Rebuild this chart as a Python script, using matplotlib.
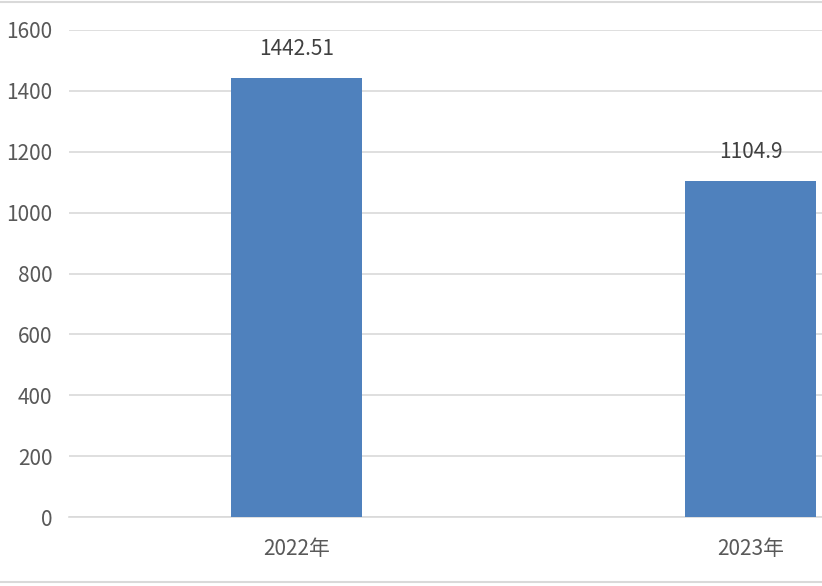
#!/usr/bin/env python3
"""Bar chart 2022年 vs 2023年, Excel style."""

import matplotlib
matplotlib.use('Agg')
import matplotlib.pyplot as plt
from matplotlib.lines import Line2D

plt.rcParams['font.family'] = ['Noto Sans CJK SC', 'DejaVu Sans']

# ─── Data ────────────────────────────────────────────────────────────────────
categories = ['2022年', '2023年']
values = [1442.51, 1104.9]
value_labels = ['1442.51', '1104.9']
y_ticks = [0, 200, 400, 600, 800, 1000, 1200, 1400, 1600]

BAR_COLOR = '#4F81BD'
GRID_COLOR = '#D9D9D9'
TEXT_COLOR = '#595959'

fig = plt.figure(figsize=(8.22, 5.86), dpi=100)
# plot area extends past the right edge (the original is cropped)
ax = fig.add_axes([69 / 822, 69 / 586, 909 / 822, 487 / 586])

x = range(len(categories))
bars = ax.bar(x, values, width=0.288, color=BAR_COLOR, edgecolor='none', zorder=3)

for bar, lbl in zip(bars, value_labels):
    ax.annotate(lbl, (bar.get_x() + bar.get_width() / 2, bar.get_height()),
                xytext=(0, 13), textcoords='offset points', ha='center', va='bottom',
                fontsize=15, color='#404040')

ax.set_xlim(-0.5, 1.5)
ax.set_ylim(0, 1600)
ax.set_yticks(y_ticks)
ax.set_xticks(list(x))
ax.set_xticklabels(categories)

ax.yaxis.grid(True, color=GRID_COLOR, linewidth=1.2, zorder=0)
ax.xaxis.grid(False)
for side in ['top', 'right', 'left']:
    ax.spines[side].set_visible(False)
ax.spines['bottom'].set_color(GRID_COLOR)
ax.spines['bottom'].set_linewidth(1.2)
ax.tick_params(axis='y', length=0, pad=12, labelsize=15, labelcolor=TEXT_COLOR)
ax.tick_params(axis='x', length=0, pad=15, labelsize=15, labelcolor=TEXT_COLOR)

# chart border lines (top and bottom)
fig.add_artist(Line2D([0, 1], [1 - 2 / 586, 1 - 2 / 586], transform=fig.transFigure,
                      color=GRID_COLOR, linewidth=1.5))
fig.add_artist(Line2D([0, 1], [4 / 586, 4 / 586], transform=fig.transFigure,
                      color=GRID_COLOR, linewidth=1.5))

fig.savefig('out.png', dpi=100)
